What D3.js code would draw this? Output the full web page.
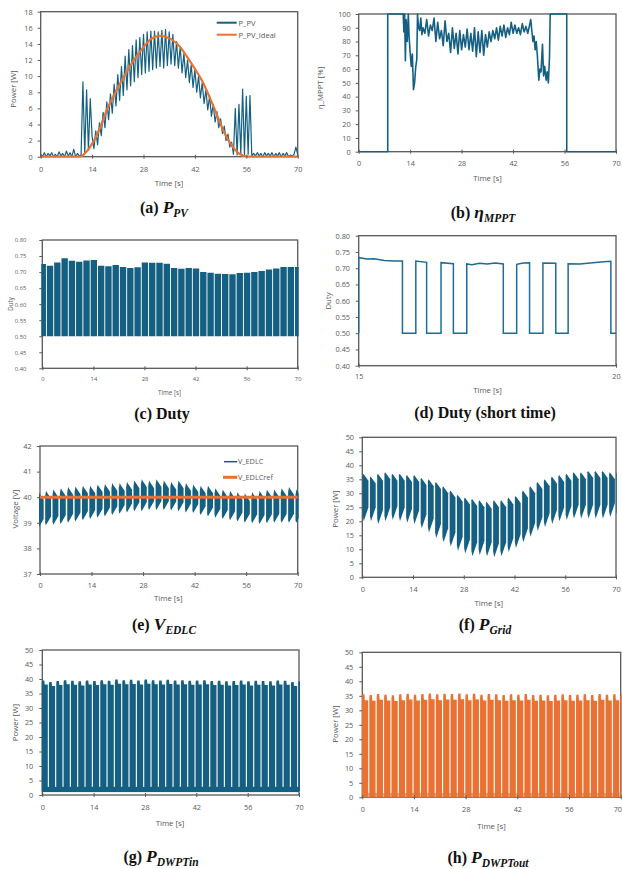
<!DOCTYPE html>
<html><head><meta charset="utf-8">
<script src="https://cdn.jsdelivr.net/npm/d3@7"></script>
<style>
body{margin:0;background:#fff}
svg{display:block}
</style>
</head><body>
<script>
// ---------------- DATA ----------------
const timeTicks = [0, 14, 28, 42, 56, 70];
const shortTimeTicks = [15, 20];
const ticksPV = [0, 2, 4, 6, 8, 10, 12, 14, 16, 18];
const ticksEff = [0, 10, 20, 30, 40, 50, 60, 70, 80, 90, 100];
const ticksDuty = [0.40, 0.45, 0.50, 0.55, 0.60, 0.65, 0.70, 0.75, 0.80];
const ticksVolt = [37, 38, 39, 40, 41, 42];
const ticksPow50 = [0, 5, 10, 15, 20, 25, 30, 35, 40, 45, 50];

// (a) P_PV sampled every 0.5 s from 0 to 70 s
const pvStep = 0.5;
const pvPower = [
  0.3,0.0,0.5,0.0,0.4,0.1,0.5,0.0,0.3,0.0,0.6,0.1,0.4,0.0,0.7,0.1,0.5,0.0,0.9,0.0,0.4,0.1,
  0.2,9.3,0.4,8.3,0.8,7.2,
  2.5,1.0,3.2,1.5,4.2,2.6,5.5,3.6,6.8,4.6,7.8,5.4,9.0,6.3,10.2,7.0,11.2,7.6,12.5,8.3,
  13.3,8.8,13.8,9.3,14.5,9.8,14.8,10.2,15.2,10.4,15.5,10.6,15.6,10.8,15.6,11.0,15.5,11.2,
  15.7,11.0,15.8,11.3,15.5,11.5,15.2,11.3,14.3,11.0,13.7,10.4,12.8,9.8,12.0,9.2,11.4,8.6,
  10.8,8.0,10.0,7.3,9.2,6.6,8.3,5.8,7.5,5.0,6.5,4.3,5.6,3.6,4.7,2.9,3.8,2.0,2.8,1.2,1.8,0.3,
  6.0,0.2,6.5,0.3,8.4,0.2,7.5,0.3,7.6,0.1,0.4,0.1,0.5,0.1,0.4,0.0,0.5,0.1,0.4,0.1,0.5,0.0,
  0.4,0.1,0.5,0.0,0.4,0.1,0.5,0.0,0.2,0.1,0.3,1.2,0.3
];
const pvIdealTime  = [0,10.7,12,14,16,18,20,22,24,26,28,30,32.5,35.5,38,40,42,44,46,48,50,52,54,56.5,70];
const pvIdealPower = [0,0,0.4,1.6,3.4,5.8,7.7,9.4,11,12.4,13.6,14.6,15,14.6,13.6,12.3,10.9,9.4,7.4,5.2,3.0,1.4,0.4,0,0];

// (b) eta_MPPT [time, %]
const mpptPoints = [[0,0],[7.9,0],[7.9,100],[12.1,100],[12.3,87],[12.5,100],[12.7,66],[12.9,96],[13.2,80],[13.5,100],
  [13.7,84],[14.0,72],[14.3,62],[14.6,71],[14.9,45],[15.2,50],[15.5,61],[15.8,67],[16.0,100],[16.3,90],[16.6,88],
  [16.9,97],[17.2,85],[17.5,90],[18,86],[18.5,96],[19,84],[19.5,92],[20,88],[20.5,97],[21,80],[21.5,94],[22,82],
  [22.5,88],[23,77],[23.5,95],[24,80],[24.5,86],[25,72],[25.5,90],[26,75],[26.5,86],[27,71],[27.5,88],[28,74],
  [28.5,85],[29,76],[29.5,89],[30,74],[30.5,86],[31,73],[31.5,90],[32,69],[32.5,87],[33,72],[33.5,88],[34,70],
  [34.5,85],[35,76],[35.5,87],[36,80],[36.5,88],[37,82],[37.5,90],[38,81],[38.5,91],[39,84],[39.5,92],[40,83],
  [40.5,90],[41,85],[41.5,94],[42,86],[42.5,92],[43,86],[43.5,90],[44,85],[44.5,93],[45,87],[45.5,91],[46,86],
  [46.5,92],[46.8,96],[47.1,88],[47.4,80],[47.7,84],[48,74],[48.3,80],[48.6,70],[49,52],[49.3,60],[49.6,58],
  [50,78],[50.3,55],[50.6,62],[51,52],[51.3,58],[51.6,50],[51.9,68],[52.1,100],[56.6,100],[56.6,0],[70,0]];

// switching cycles (~2 s period), one entry per cycle
const cycleTime = [0,2,4,6,8,10,12,14,16,18,20,22,24,26,28,30,32,34,36,38,40,42,44,46,48,50,52,54,56,58,60,62,64,66,68,70];

// (c) Duty high level per cycle, low level
const dutyHigh = [0.725,0.72,0.73,0.743,0.735,0.732,0.736,0.738,0.72,0.718,0.722,0.716,0.713,0.715,0.73,0.729,0.729,0.726,
  0.713,0.71,0.713,0.711,0.70,0.698,0.695,0.694,0.693,0.697,0.698,0.70,0.703,0.708,0.711,0.716,0.716,0.716];
const dutyLow = 0.50;

// (d) Duty short time
const dutyShortTime  = [15,15,15.15,15.3,15.5,15.7,15.85,15.85,16.11,16.11,16.32,16.32,16.6,16.6,16.84,16.84,17.1,17.1,17.2,17.35,17.5,17.65,17.81,17.81,
  18.07,18.07,18.2,18.32,18.32,18.58,18.58,18.83,18.83,19.07,19.07,19.3,19.5,19.7,19.9,19.9,20];
const dutyShortValue = [0.50,0.733,0.728,0.729,0.724,0.722,0.722,0.50,0.50,0.722,0.718,0.50,0.50,0.717,0.714,0.50,0.50,0.713,0.711,0.715,0.713,0.716,0.713,0.50,
  0.50,0.712,0.716,0.717,0.50,0.50,0.716,0.715,0.50,0.50,0.714,0.713,0.716,0.719,0.721,0.50,0.50];

// (e) V_EDLC per cycle
const vHigh = [40.2,40.25,40.3,40.35,40.4,40.42,40.45,40.45,40.5,40.52,40.55,40.55,40.6,40.65,40.7,40.65,40.7,40.65,40.6,40.65,
  40.55,40.5,40.45,40.45,40.35,40.3,40.25,40.2,40.15,40.2,40.25,40.3,40.3,40.35,40.4,40.3];
const vLow = [38.8,38.9,38.92,38.95,39.0,39.05,39.1,39.15,39.2,39.25,39.3,39.35,39.4,39.45,39.45,39.5,39.5,39.5,39.48,39.45,
  39.4,39.38,39.3,39.25,39.2,39.15,39.1,39.05,39.0,38.98,38.95,38.98,39.0,39.0,39.0,39.0];
const vRefTime = [0, 70];
const vRef = [40, 40];

// (f) P_Grid per cycle
const gridHigh = [37,36,37,37.5,37,37,36.5,36.5,35.5,35,34,32.5,31,29.5,28.5,28,27.5,27,27.5,27.5,28.5,29,31,32.5,34,35,36,36.5,37,37.5,37.5,38,38,38,37.5,37.5];
const gridLow = [20,20,19,20,20.5,20,19.5,19,17.5,16,14,12.5,11,9.5,8.5,7.5,8,7.5,7.2,7.5,9,10.5,12.5,14.5,16.5,18,19,20,20.5,21,21,21,21,21,21.5,21.5];

// (g) P_DWPTin per cycle
const dwptInHigh = [39.5,39.0,39.3,39.6,39.4,39.2,39.5,39.3,39.6,39.4,39.8,39.6,39.7,39.5,39.8,39.6,39.5,39.7,39.5,39.6,39.4,39.5,39.6,39.3,39.4,39.2,39.3,39.5,39.2,39.4,39.3,39.2,39.5,39.4,39.0,39.2];
const dwptInLow = 1.3;
const dwptInRipple = [1.0, 2.8];

// (h) P_DWPTout per cycle
const dwptOutHigh = [35.5,35.3,35.6,35.4,35.2,35.5,35.7,35.4,35.6,35.8,35.5,35.7,35.6,35.8,35.5,35.7,35.4,35.6,35.5,35.3,35.5,35.4,35.6,35.3,35.4,35.2,35.4,35.5,35.3,35.4,35.5,35.3,35.6,35.4,35.5,35.5];
const dwptOutLow = 0;
const dwptOutRipple = [0, 1.5];

// ---------------- DRAWING ----------------
const W = 622, H = 869;
const BLUE = "#156082", ORANGE = "#E97132", AXIS = "#595959";
const SANS = "Open Sans, sans-serif", SERIF = "Liberation Serif, Times New Roman, serif";
const svg = d3.select("body").append("svg").attr("width", W).attr("height", H).attr("font-family", SANS);
svg.append("rect").attr("width", W).attr("height", H).attr("fill", "#fff");
const defs = svg.append("defs");

function panel(o) {
  const fs = o.fs || 1;
  const x = d3.scaleLinear().domain(o.xd).range([o.l, o.r]);
  const y = d3.scaleLinear().domain(o.yd).range([o.b, o.t]);
  const g = svg.append("g");
  g.append("rect").attr("x", o.l).attr("y", o.t).attr("width", o.r - o.l).attr("height", o.b - o.t)
    .attr("fill", "none").attr("stroke", AXIS).attr("stroke-width", 1.3);
  defs.append("clipPath").attr("id", "c" + o.id).append("rect")
    .attr("x", o.l - 1).attr("y", o.t - 1).attr("width", o.r - o.l + 2).attr("height", o.b - o.t + 2);
  const data = g.append("g").attr("clip-path", `url(#c${o.id})`);
  const ya = g.append("g").attr("transform", `translate(${o.l},0)`)
    .call(d3.axisLeft(y).tickValues(o.yt).tickSize(3).tickPadding(o.yGap - 3).tickFormat(o.yf || d3.format("d")));
  ya.attr("font-family", SANS);
  ya.select(".domain").remove();
  ya.selectAll("line").attr("stroke", AXIS);
  ya.selectAll("text").attr("fill", AXIS).attr("font-size", 7.3 * fs);
  const xa = g.append("g").attr("transform", `translate(0,${o.b})`)
    .call(d3.axisBottom(x).tickValues(o.xt).tickSizeInner(2).tickSizeOuter(0).tickFormat(d3.format("d")));
  xa.attr("font-family", SANS);
  xa.select(".domain").remove();
  xa.selectAll("line").attr("stroke", AXIS).attr("y1", -2).attr("y2", 2);
  xa.selectAll("text").attr("fill", AXIS).attr("font-size", 7.3 * fs).attr("dy", null).attr("y", o.xLab);
  if (o.lastLabelEnd) xa.selectAll("text").filter(d => d === 70).attr("text-anchor", "end").attr("dx", o.lastLabelEnd);
  g.append("text").attr("x", o.tx).attr("y", o.ty).attr("text-anchor", "middle").attr("fill", AXIS)
    .attr("font-size", 7.8 * fs).text("Time [s]");
  g.append("text").attr("transform", `translate(${o.yx},${o.yy}) rotate(-90)`).attr("text-anchor", "middle")
    .attr("fill", AXIS).attr("font-size", 7.8 * fs).text(o.yLabel);
  const t = svg.append("text").attr("x", o.cx).attr("y", o.cy).attr("text-anchor", "middle")
    .attr("font-family", SERIF).attr("font-weight", "bold").attr("fill", "#111");
  t.append("tspan").attr("font-size", 16).text(o.title[0]);
  if (o.title[1]) {
    t.append("tspan").attr("font-size", 17.5).attr("font-style", "italic").text(o.title[1]);
    t.append("tspan").attr("font-size", 11.5).attr("font-style", "italic").attr("dy", 4).text(o.title[2]);
  }
  return { x, y, data, g };
}

function drawCycles(p, highs, lows, shape, fill) {
  const line = d3.line().x(d => p.x(d[0])).y(d => p.y(d[1]));
  p.data.selectAll(null)
    .data(cycleTime.map((t, i) => shape(t, highs[i], Array.isArray(lows) ? lows[i] : lows)))
    .join("path").attr("d", d => line(d) + "Z").attr("fill", fill);
}

// (a)
const pa = panel({id:"a", l:40.7, r:297.7, t:11.7, b:156.7, xd:[0,70], yd:[0,18], xt:timeTicks, yt:ticksPV,
  yGap:8, xLab:15, tx:169, ty:185.5, yx:16, yy:89, yLabel:"Power [W]", cx:164, cy:213, title:["(a) ","P","PV"]});
{
  const line = d3.line().x((d, i) => pa.x(i * pvStep)).y(d => pa.y(d));
  pa.data.append("path").attr("d", line(pvPower)).attr("fill", "none").attr("stroke", BLUE)
    .attr("stroke-width", 1.2).attr("stroke-linejoin", "round");
  const li = d3.line().curve(d3.curveMonotoneX).x((d, i) => pa.x(pvIdealTime[i])).y(d => pa.y(d));
  pa.data.append("path").attr("d", li(pvIdealPower)).attr("fill", "none").attr("stroke", ORANGE).attr("stroke-width", 2.2);
  const lg = pa.g.append("g");
  lg.append("line").attr("x1", 216.7).attr("x2", 236.7).attr("y1", 22.7).attr("y2", 22.7).attr("stroke", BLUE).attr("stroke-width", 2);
  lg.append("line").attr("x1", 216.7).attr("x2", 236.7).attr("y1", 34.7).attr("y2", 34.7).attr("stroke", ORANGE).attr("stroke-width", 2);
  lg.append("text").attr("x", 238.5).attr("y", 25.5).attr("font-size", 7.6).attr("fill", AXIS).text("P_PV");
  lg.append("text").attr("x", 238.5).attr("y", 37.5).attr("font-size", 7.6).attr("fill", AXIS).text("P_PV_ideal");
}

// (b)
const pb = panel({id:"b", l:358.7, r:616, t:14, b:151.7, xd:[0,70], yd:[0,100], xt:timeTicks, yt:ticksEff,
  yGap:8, xLab:14.5, tx:487.5, ty:181, yx:323, yy:88, yLabel:"η_MPPT [%]", cx:483, cy:218, title:["(b) ","η","MPPT"]});
{
  const line = d3.line().x(d => pb.x(d[0])).y(d => pb.y(Math.min(100, d[1])));
  pb.data.append("path").attr("d", line(mpptPoints)).attr("fill", "none").attr("stroke", BLUE)
    .attr("stroke-width", 1.6).attr("stroke-linejoin", "round");
}

// (c)
const pc = panel({id:"c", l:42.3, r:297.7, t:240, b:368.3, xd:[0,70], yd:[0.4,0.8], xt:timeTicks, yt:ticksDuty, fs:0.8,
  yf:d3.format(".2f"), yGap:16, xLab:12.8, tx:169.5, ty:394.5, yx:13, yy:304, yLabel:"Duty", cx:162, cy:418.5, title:["(c) Duty"]});
drawCycles(pc, dutyHigh, dutyLow, (t, hi, lo) => { const a = t - 0.75, b = t + 1.0; return [[a, lo], [a, hi], [b, hi], [b, lo]]; }, BLUE);

// (d)
const pd = panel({id:"d", l:358.7, r:616, t:235.7, b:365.7, xd:[15,20], yd:[0.4,0.8], xt:shortTimeTicks, yt:ticksDuty,
  yf:d3.format(".2f"), yGap:8.7, xLab:13.3, tx:487.5, ty:393, yx:330.5, yy:301, yLabel:"Duty", cx:485, cy:418, title:["(d) Duty (short time)"]});
{
  const line = d3.line().x((d, i) => pd.x(dutyShortTime[i])).y(d => pd.y(d));
  pd.data.append("path").attr("d", line(dutyShortValue)).attr("fill", "none").attr("stroke", "#1f6b93").attr("stroke-width", 1.5);
}

// (e)
const pe = panel({id:"e", l:40, r:297.7, t:446, b:574, xd:[0,70], yd:[37,42], xt:timeTicks, yt:ticksVolt,
  yGap:8.3, xLab:14.3, tx:168.3, ty:601, yx:17.5, yy:509, yLabel:"Voltage [V]", cx:164, cy:630, title:["(e) ","V","EDLC"]});
drawCycles(pe, vHigh, vLow, (t, hi, lo) => { const a = t - 0.6, b = t + 1.0;
  return [[a, hi - 0.2], [a + 0.25, hi], [a + 0.55, hi - 0.08], [b, hi - 0.3], [b, lo + 0.35], [a + 0.2, lo], [a, lo + 0.1]]; }, BLUE);
{
  const line = d3.line().x((d, i) => pe.x(vRefTime[i])).y(d => pe.y(d));
  pe.data.append("path").attr("d", line(vRef)).attr("fill", "none").attr("stroke", ORANGE).attr("stroke-width", 3);
  const lg = pe.g.append("g");
  lg.append("line").attr("x1", 224).attr("x2", 237.3).attr("y1", 461.7).attr("y2", 461.7).attr("stroke", BLUE).attr("stroke-width", 1.5);
  lg.append("line").attr("x1", 223).attr("x2", 237.3).attr("y1", 477.3).attr("y2", 477.3).attr("stroke", ORANGE).attr("stroke-width", 3);
  lg.append("text").attr("x", 238).attr("y", 464.4).attr("font-size", 7.3).attr("fill", AXIS).text("V_EDLC");
  lg.append("text").attr("x", 238).attr("y", 480).attr("font-size", 7.3).attr("fill", AXIS).text("V_EDLCref");
}

// (f)
const pf = panel({id:"f", l:362.3, r:616, t:437.3, b:577.3, xd:[0,70], yd:[0,50], xt:timeTicks, yt:ticksPow50,
  yGap:8.3, xLab:14.4, tx:488.8, ty:606, yx:338.3, yy:509, yLabel:"Power [W]", cx:485, cy:630, title:["(f) ","P","Grid"]});
drawCycles(pf, gridHigh, gridLow, (t, hi, lo) => { const a = t + 0.1, b = t + 1.7;
  return [[a, hi - 0.5], [a + 0.2, hi], [b, hi - 2.5], [b, lo + 5], [a + 0.3, lo], [a, lo + 2]]; }, BLUE);

// (g)
const pg = panel({id:"g", l:42.3, r:299, t:650, b:795, xd:[0,70], yd:[0,50], xt:timeTicks, yt:ticksPow50,
  yGap:9, xLab:15, tx:170, ty:825.5, yx:18.3, yy:722.5, yLabel:"Power [W]", cx:161, cy:862, title:["(g) ","P","DWPTin"]});
pg.data.append("rect").attr("x", pg.x(0)).attr("width", pg.x(70) - pg.x(0))
  .attr("y", pg.y(dwptInRipple[1])).attr("height", pg.y(dwptInRipple[0]) - pg.y(dwptInRipple[1])).attr("fill", BLUE);
drawCycles(pg, dwptInHigh, dwptInLow, (t, hi, lo) => { const a = t - 0.2, b = t + 1.5;
  return [[a, lo], [a, hi - 0.8], [a + 0.1, hi], [a + 0.75, hi], [a + 0.85, hi - 1.4], [b, hi - 1.4], [b, lo]]; }, BLUE);

// (h)
const ph = panel({id:"h", l:362.3, r:620.7, t:652.3, b:797.3, xd:[0,70], yd:[0,50], xt:timeTicks, yt:ticksPow50,
  yGap:9, xLab:15.2, tx:491.5, ty:828.5, yx:338.3, yy:724, yLabel:"Power [W]", cx:488, cy:863, title:["(h) ","P","DWPTout"],
  lastLabelEnd: 0.8});
ph.data.append("rect").attr("x", ph.x(0)).attr("width", ph.x(70) - ph.x(0))
  .attr("y", ph.y(dwptOutRipple[1])).attr("height", ph.y(dwptOutRipple[0]) - ph.y(dwptOutRipple[1])).attr("fill", "#f2a77c");
drawCycles(ph, dwptOutHigh, dwptOutLow, (t, hi, lo) => { const a = t - 0.1, b = t + 1.6;
  return [[a, lo], [a, hi - 1.2], [a + 0.1, hi], [a + 0.7, hi], [a + 0.8, hi - 2], [b, hi - 2], [b, lo]]; }, ORANGE);
</script>
</body></html>
